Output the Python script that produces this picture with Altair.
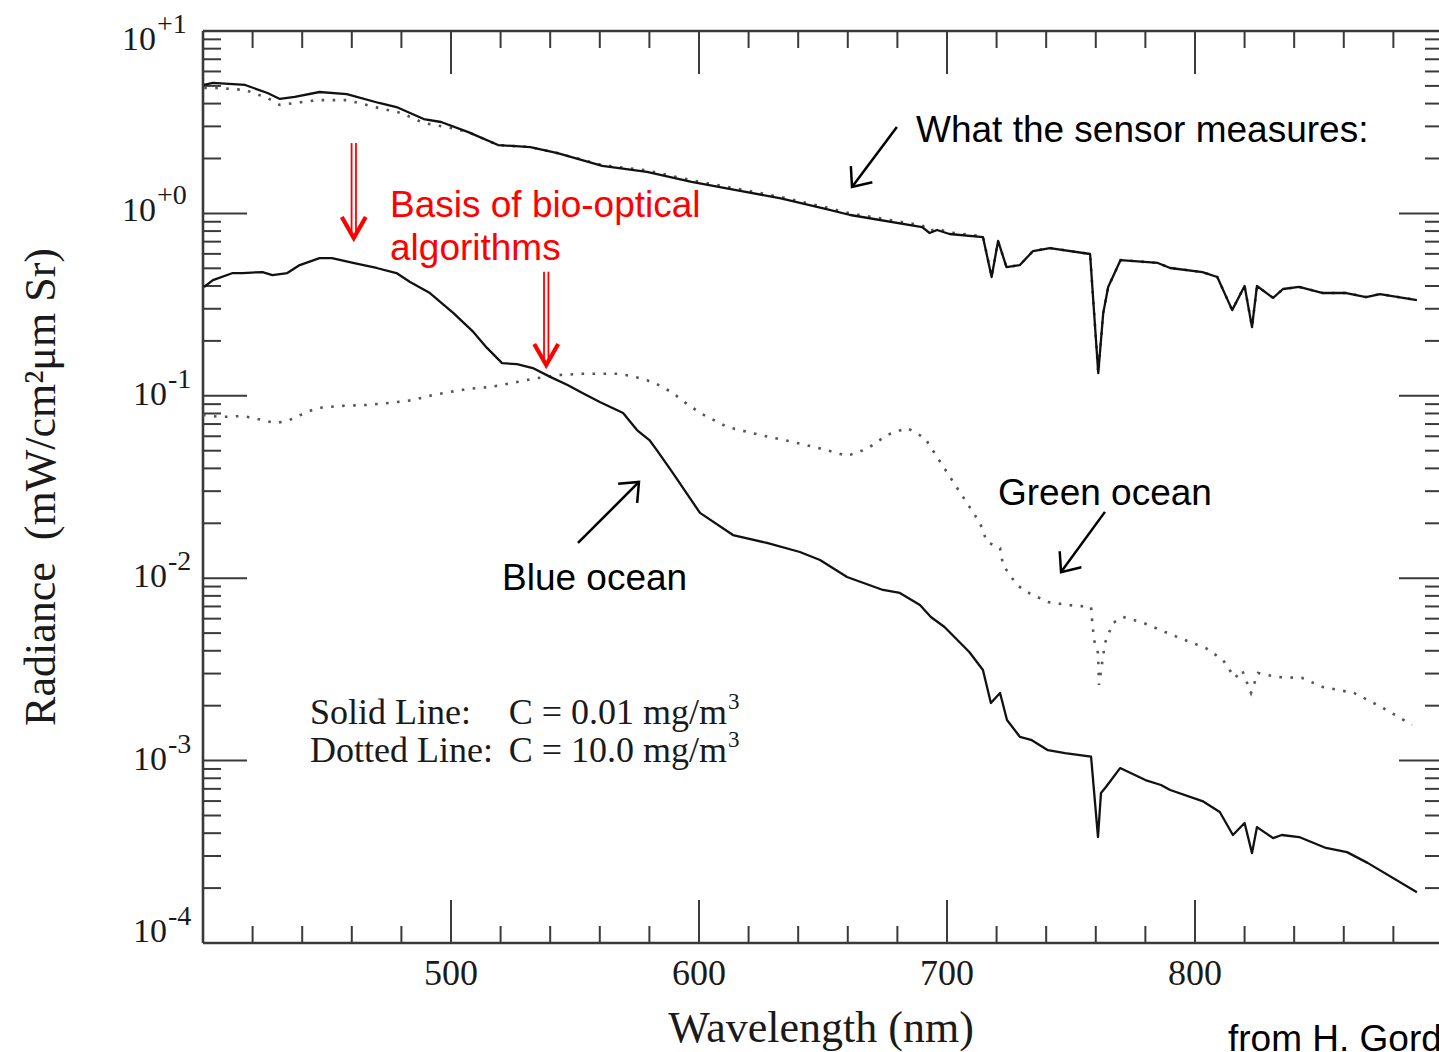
import altair as alt
import pandas as pd

# ---------------- data ----------------
# Top-of-atmosphere radiance, C = 0.01 mg/m3 (solid)
toa_clear_nm = [400.4, 404, 417, 426, 431, 437, 447, 458, 471, 478, 489, 496, 507, 519, 532, 543, 561, 579,
                597, 615, 633, 651, 661, 690, 693, 696, 701, 714.5, 718, 720.6, 724, 729.4, 734.7, 741.5,
                757.7, 761, 763, 765, 770, 785, 790, 803, 809, 815, 820, 823, 825, 831.5, 835.5, 842,
                851.6, 861, 869, 874.6, 889.5]
toa_clear_rad = [5.06, 5.19, 5.06, 4.57, 4.24, 4.35, 4.63, 4.51, 4.03, 3.83, 3.29, 3.17, 2.79, 2.37, 2.31, 2.14,
                 1.82, 1.69, 1.49, 1.34, 1.21, 1.06, 0.98, 0.842, 0.781, 0.811, 0.771, 0.742, 0.448, 0.706,
                 0.508, 0.521, 0.622, 0.646, 0.599, 0.133, 0.284, 0.395, 0.555, 0.535, 0.502, 0.477, 0.448,
                 0.295, 0.400, 0.238, 0.400, 0.344, 0.385, 0.395, 0.366, 0.366, 0.348, 0.361, 0.335]

# Top-of-atmosphere radiance, C = 10.0 mg/m3 (dotted)
toa_green_nm = [400.5, 406, 417, 426, 431, 446, 458, 471, 480, 489, 500, 507, 519, 532, 543, 561, 579, 597,
                615, 633, 651, 661, 690, 693, 696, 701, 714.5, 718, 720.6, 724, 729.4, 734.7, 741.5, 757.7,
                761, 763, 765, 770, 785, 790, 803, 809, 815, 820, 823, 825, 831.5, 835.5, 842, 851.6, 861,
                869, 874.6, 889.5]
toa_green_rad = [4.87, 4.87, 4.75, 4.29, 3.93, 4.18, 4.18, 3.78, 3.55, 3.13, 2.94, 2.79, 2.37, 2.31, 2.14, 1.84,
                 1.72, 1.52, 1.37, 1.23, 1.08, 1.00, 0.86, 0.80, 0.825, 0.785, 0.75, 0.448, 0.706, 0.508,
                 0.521, 0.622, 0.646, 0.599, 0.133, 0.284, 0.395, 0.555, 0.535, 0.502, 0.477, 0.448, 0.295,
                 0.400, 0.238, 0.400, 0.344, 0.385, 0.395, 0.366, 0.366, 0.348, 0.361, 0.335]

# Water-leaving radiance, blue ocean (solid)
blue_nm = [400.4, 404, 412, 416, 424, 428, 434, 439, 447, 452, 460.5, 470, 478, 483.5, 491.5, 501, 509, 514.5,
           520.6, 526.6, 533, 540, 547, 553, 560, 569.4, 575, 580, 583, 589.5, 600.4, 613.7, 627.4, 640.7,
           648.8, 659.7, 674.2, 681, 689.1, 693.5, 699, 709, 714.5, 717.7, 721.4, 724.2, 729.4, 733.9, 740.7,
           747.6, 758.1, 760.9, 762.1, 764.1, 769.8, 780, 786.3, 790, 803, 810, 815.3, 820, 823, 825, 831.5,
           835, 842, 852.8, 861.3, 869.6, 889.5]
blue_rad = [0.395, 0.431, 0.471, 0.471, 0.477, 0.459, 0.471, 0.521, 0.569, 0.569, 0.535, 0.502, 0.471, 0.421,
            0.366, 0.284, 0.224, 0.183, 0.151, 0.149, 0.142, 0.127, 0.1146, 0.1036, 0.0925, 0.0805, 0.0649,
            0.0572, 0.0504, 0.0377, 0.0228, 0.01725, 0.0156, 0.01392, 0.01259, 0.01015, 0.00862, 0.0083,
            0.00713, 0.00613, 0.0054, 0.00394, 0.00314, 0.00207, 0.00235, 0.00167, 0.00135, 0.0013, 0.00114,
            0.0011, 0.00105, 0.000381, 0.000665, 0.000717, 0.00091, 0.000782, 0.000735, 0.00069, 0.0006,
            0.000523, 0.000391, 0.000455, 0.000311, 0.000432, 0.000376, 0.000391, 0.000381, 0.000332,
            0.000315, 0.000275, 0.00019]

# Water-leaving radiance, green ocean (dotted)
green_nm = [400, 407, 416, 424, 429, 434, 442, 446, 455, 466, 475, 484.7, 492.7, 506.5, 515.7, 526.6, 534.7,
            544, 553, 567, 573.4, 581.5, 589.5, 593, 600.4, 611.3, 624.6, 637.9, 651.6, 659.7, 667.7, 675.8,
            683.9, 691.1, 696, 701.2, 708.1, 713.3, 716.1, 721.4, 722.6, 728.2, 732.3, 740.7, 748.8, 758.1,
            758.5, 759.3, 760.9, 761.3, 763.7, 766.9, 771, 779.4, 787.9, 796, 804.4, 811.3, 816.1, 819, 822.6,
            825.4, 833.5, 843.1, 851.6, 864.1, 875, 887.5]
green_rad = [0.0785, 0.0765, 0.0775, 0.0737, 0.0709, 0.0728, 0.0815, 0.0857, 0.0879, 0.0891, 0.0913, 0.0948,
             0.101, 0.109, 0.1117, 0.119, 0.125, 0.130, 0.132, 0.132, 0.128, 0.119, 0.1036, 0.0948, 0.0805,
             0.0675, 0.0610, 0.0558, 0.0504, 0.0468, 0.0511, 0.0610, 0.0666, 0.0587, 0.0462, 0.0359, 0.0258,
             0.0201, 0.0158, 0.01464, 0.01181, 0.00918, 0.0084, 0.0074, 0.00713, 0.00695, 0.0059, 0.00458,
             0.00389, 0.0026, 0.00441, 0.00568, 0.00613, 0.00568, 0.00507, 0.00458, 0.00414, 0.00356,
             0.00284, 0.00314, 0.00235, 0.00302, 0.00287, 0.00284, 0.00253, 0.00235, 0.00197, 0.00157]

# tick values and labels
x_major = [500, 600, 700, 800]
x_labels = ["500", "600", "700", "800"]
x_minor = [420, 440, 460, 480, 520, 540, 560, 580, 620, 640, 660, 680, 720, 740, 760, 780, 820, 840, 860, 880]
y_exps = [1, 0, -1, -2, -3, -4]
y_sups = ["+1", "+0", "-1", "-2", "-3", "-4"]
y_minor = [m * 10.0 ** e for e in [-4, -3, -2, -1, 0] for m in range(2, 10)]

# annotation anchors (wavelength nm, radiance)
arrow_x1 = [679.8, 551.2, 763.7]
arrow_y1 = [2.976, 0.0156, 0.0231]
arrow_x2 = [661.7, 575.8, 746.0]
arrow_y2 = [1.395, 0.0337, 0.0108]
arrow_angle = [126.9, 315, 126.3]
red_x = [460.8, 538.4]
red_top = [2.43, 0.479]
red_bottom = [0.791, 0.157]
red_tip = [0.733, 0.1476]

# ---------------- chart ----------------
W, H = 1236, 912
SERIF = "Liberation Serif"
SANS = "Liberation Sans"
FRAME = "#3a3a3a"

xs = alt.Scale(domain=[400, 898.4], nice=False, zero=False)
ys = alt.Scale(type="log", domain=[1e-4, 10], nice=False)


def X(f):
    return alt.X(f, type="quantitative", scale=xs, axis=None)


def Y(f):
    return alt.Y(f, type="quantitative", scale=ys, axis=None)


dummy = pd.DataFrame({"a": [0]})
layers = []

# frame
layers.append(alt.Chart(dummy).mark_rule(color=FRAME, strokeWidth=2.6).encode(
    x=alt.value(0), x2=alt.value(W + 4), y=alt.value(0)))
layers.append(alt.Chart(dummy).mark_rule(color=FRAME, strokeWidth=2.6).encode(
    x=alt.value(0), x2=alt.value(W + 4), y=alt.value(H)))
layers.append(alt.Chart(dummy).mark_rule(color=FRAME, strokeWidth=2.6).encode(
    x=alt.value(0), y=alt.value(0), y2=alt.value(H)))

# x ticks (bottom and top, pointing inward)
xmaj = pd.DataFrame({"v": x_major, "lab": x_labels})
xmin = pd.DataFrame({"v": x_minor})
for df, ln in ((xmaj, 43), (xmin, 17)):
    layers.append(alt.Chart(df).mark_rule(color=FRAME, strokeWidth=2).encode(
        x=X("v"), y=alt.value(H), y2=alt.value(H - ln)))
    layers.append(alt.Chart(df).mark_rule(color=FRAME, strokeWidth=2).encode(
        x=X("v"), y=alt.value(0), y2=alt.value(ln)))

# y ticks (left and right, pointing inward)
ymaj = pd.DataFrame({"e": y_exps, "v": [10.0 ** e for e in y_exps], "base": ["10"] * len(y_exps), "sup": y_sups})
ymin = pd.DataFrame({"v": y_minor})
for df, ln in ((ymaj, 44), (ymin, 18)):
    layers.append(alt.Chart(df).mark_rule(color=FRAME, strokeWidth=2).encode(
        y=Y("v"), x=alt.value(0), x2=alt.value(ln)))
    layers.append(alt.Chart(df).mark_rule(color=FRAME, strokeWidth=2).encode(
        y=Y("v"), x=alt.value(W + 4), x2=alt.value(W + 4 - ln)))

# x tick labels
layers.append(alt.Chart(xmaj).mark_text(font=SERIF, fontSize=36, align="center", baseline="alphabetic",
                                        color="#1a1a1a").encode(
    x=X("v"), y=alt.value(H + 42), text="lab:N"))

# y tick labels: "10" with superscript exponent
groups = [("datum.e == 1", -47, 19), ("datum.e == 0", -47, 8),
          ("datum.e < 0 && datum.e > -4", -36, 9), ("datum.e == -4", -36, -1)]
for cond, xb, dy in groups:
    layers.append(alt.Chart(ymaj).transform_filter(cond).mark_text(
        font=SERIF, fontSize=34, align="right", baseline="alphabetic", dy=dy, color="#1a1a1a").encode(
        x=alt.value(xb), y=Y("v"), text="base:N"))
    layers.append(alt.Chart(ymaj).transform_filter(cond).mark_text(
        font=SERIF, fontSize=28, align="left", baseline="alphabetic", dy=dy - 17, color="#1a1a1a").encode(
        x=alt.value(xb + 1), y=Y("v"), text="sup:N"))

# axis titles
layers.append(alt.Chart(dummy).mark_text(font=SERIF, fontSize=44, align="center", baseline="alphabetic",
                                         color="#1a1a1a", text="Wavelength (nm)").encode(
    x=alt.value(W / 2), y=alt.value(1011)))
layers.append(alt.Chart(dummy).mark_text(font=SERIF, fontSize=44, align="center", baseline="alphabetic",
                                         angle=270, color="#1a1a1a",
                                         text="Radiance \u00a0(mW/cm\u00b2\u03bcm Sr)").encode(
    x=alt.value(-148), y=alt.value(H / 2)))

# curves
def curve(nm, rad, dotted):
    df = pd.DataFrame({"nm": nm, "rad": rad})
    if dotted:
        m = alt.Chart(df).mark_line(color="#555555", strokeWidth=2.6, strokeDash=[2.6, 8.4], strokeCap="butt")
    else:
        m = alt.Chart(df).mark_line(color="#111111", strokeWidth=2.3, strokeJoin="round")
    return m.encode(x=X("nm"), y=Y("rad"), order="nm:Q")


layers.append(curve(green_nm, green_rad, True))
layers.append(curve(toa_green_nm, toa_green_rad, True))
layers.append(curve(blue_nm, blue_rad, False))
layers.append(curve(toa_clear_nm, toa_clear_rad, False))

# black arrows
arr = pd.DataFrame({"x1": arrow_x1, "y1": arrow_y1, "x2": arrow_x2, "y2": arrow_y2, "ang": arrow_angle})
layers.append(alt.Chart(arr).mark_rule(color="black", strokeWidth=2.5).encode(
    x=X("x1"), y=Y("y1"), x2=alt.X2("x2"), y2=alt.Y2("y2")))
layers.append(alt.Chart(arr).mark_point(shape="M-1,-0.84L0,0L-1,0.84", filled=False, size=1024,
                                        strokeWidth=2.5, color="black", opacity=1).encode(
    x=X("x2"), y=Y("y2"), angle=alt.Angle("ang:Q", scale=None)))

# red double arrows
red = pd.DataFrame({"x": red_x, "top": red_top, "bot": red_bottom, "tip": red_tip})
for off in (-2.2, 2.2):
    layers.append(alt.Chart(red).mark_rule(color="#ff0000", strokeWidth=1.8, xOffset=off, x2Offset=off).encode(
        x=X("x"), y=Y("top"), y2=alt.Y2("bot")))
layers.append(alt.Chart(red).mark_point(shape="M-1,-0.57L0,0L-1,0.57", filled=False, size=1764,
                                        strokeWidth=4.2, color="#ff0000", opacity=1, angle=90).encode(
    x=X("x"), y=Y("tip")))

# annotation texts
def label(txt, x, y, color="black", font=SANS, size=37, align="left"):
    return alt.Chart(dummy).mark_text(text=txt, font=font, fontSize=size, color=color, align=align,
                                      baseline="alphabetic").encode(x=alt.value(x), y=alt.value(y))


layers += [
    label("What the sensor measures:", 713, 111),
    label("Basis of bio-optical", 187, 186, color="#ff0000"),
    label("algorithms", 187, 229, color="#ff0000"),
    label("Green ocean", 795, 474),
    label("Blue ocean", 299, 559),
    label("from H. Gordon", 1025, 1020),
    label("Solid Line:", 107, 693, color="#1a1a1a", font=SERIF, size=36),
    label("C = 0.01 mg/m", 524, 693, color="#1a1a1a", font=SERIF, size=36, align="right"),
    label("3", 525, 678, color="#1a1a1a", font=SERIF, size=23),
    label("Dotted Line:", 107, 731, color="#1a1a1a", font=SERIF, size=36),
    label("C = 10.0 mg/m", 524, 731, color="#1a1a1a", font=SERIF, size=36, align="right"),
    label("3", 525, 716, color="#1a1a1a", font=SERIF, size=23),
]

chart = alt.layer(*layers).properties(
    width=W, height=H,
    autosize=alt.AutoSizeParams(type="none"),
    padding={"left": 203, "top": 31, "right": 0, "bottom": 109},
    background="white",
).configure_view(stroke=None)

chart.save("out.html", embed_options={"renderer": "svg", "actions": False})
